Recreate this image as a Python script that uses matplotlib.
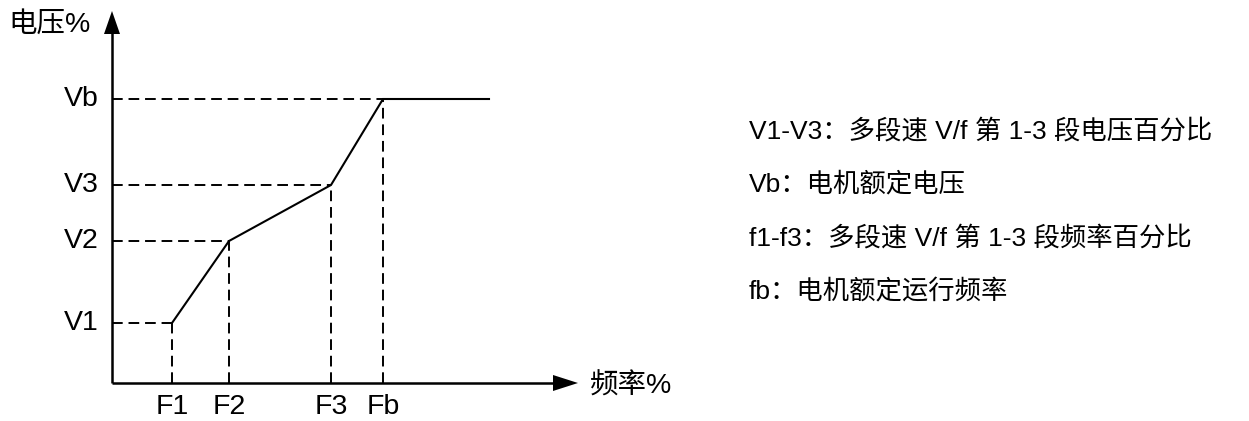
import matplotlib
matplotlib.use('Agg')
import matplotlib.pyplot as plt

plt.rcParams['font.family'] = ['Liberation Sans', 'Noto Sans CJK SC', 'DejaVu Sans']

# V/f curve breakpoints (arbitrary units, origin at axis corner)
freq_labels = ['F1', 'F2', 'F3', 'Fb']
freq_values = [60, 117, 219, 271]
volt_labels = ['V1', 'V2', 'V3', 'Vb']
volt_values = [60, 142, 198, 284]
freq_end = 377  # flat part after Fb

notes = [
    'V1-V3：多段速 V/f 第 1-3 段电压百分比',
    'Vb：电机额定电压',
    'f1-f3：多段速 V/f 第 1-3 段频率百分比',
    'fb：电机额定运行频率',
]

W, H = 1249, 421
fig = plt.figure(figsize=(W / 100, H / 100), dpi=100)
ax = fig.add_axes([0, 0, 1, 1])
x0, y0 = 112, 383  # axis origin in pixels
ax.set_xlim(-x0, W - x0)
ax.set_ylim(-(H - y0), y0)
ax.axis('off')

# axes with arrow heads
x_tip, y_tip = 466, 372
ax.plot([0, x_tip - 20], [0, 0], color='black', lw=1.8, solid_capstyle='butt')
ax.plot([0, 0], [0, y_tip - 20], color='black', lw=1.8, solid_capstyle='butt')
ax.fill([x_tip, x_tip - 25, x_tip - 25], [0, 8, -8], color='black', lw=0)
ax.fill([0, -8, 8], [y_tip, y_tip - 23, y_tip - 23], color='black', lw=0)

# curve
xs = freq_values + [freq_end]
ys = volt_values + [volt_values[-1]]
ax.plot(xs, ys, color='black', lw=1.5, solid_joinstyle='miter')

# dashed guides
for f, v in zip(freq_values, volt_values):
    ax.plot([0, f], [v, v], color='black', lw=1.4, dashes=(5.5, 3))
    ax.plot([f, f], [0, v], color='black', lw=1.4, dashes=(5.5, 3))

for lab, v in zip(volt_labels, volt_values):
    ax.text(-13, v, lab, ha='right', va='center', fontsize=20.5)
for lab, f in zip(freq_labels, freq_values):
    ax.text(f, -24, lab, ha='center', va='center', fontsize=20.5)

ax.text(-104, y0 - 25, '电压%', ha='left', va='center', fontsize=20.5)
ax.text(x_tip + 12, -4, '频率%', ha='left', va='center', fontsize=20.5)

for i, line in enumerate(notes):
    fig.text(749 / W, 1 - (131 + 53.5 * i) / H, line, ha='left', va='center', fontsize=19)

fig.savefig('out.png', dpi=100, facecolor='white')
